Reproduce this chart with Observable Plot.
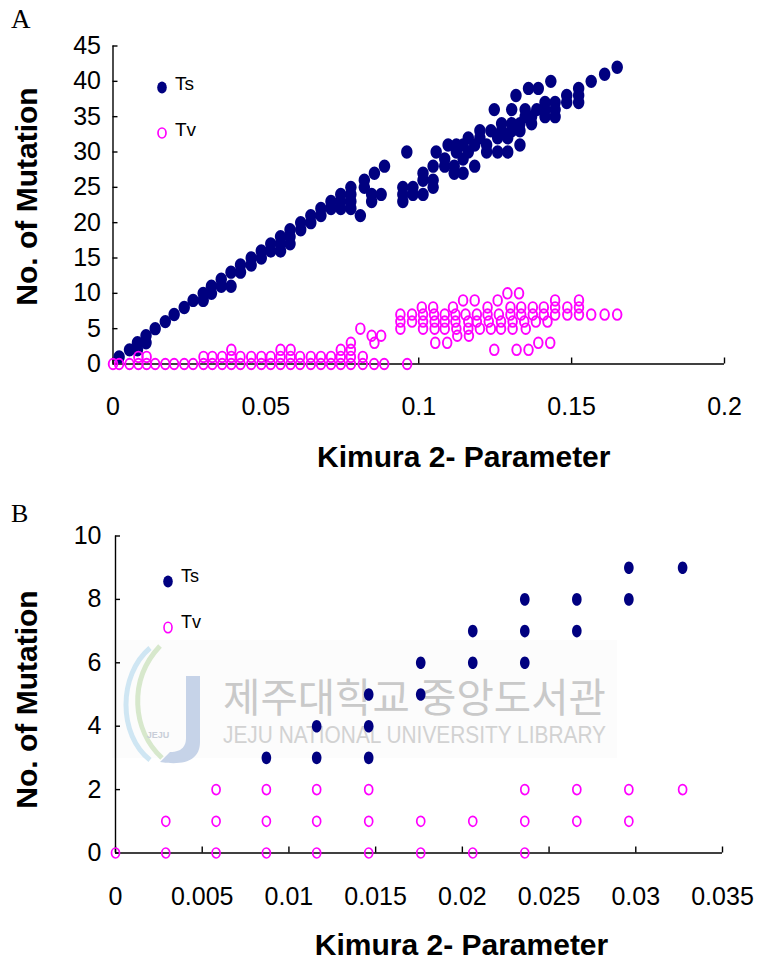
<!DOCTYPE html>
<html><head><meta charset="utf-8">
<script src="https://cdn.jsdelivr.net/npm/d3@7"></script>
<script src="https://cdn.jsdelivr.net/npm/@observablehq/plot@0.6"></script>
<style>
html,body{margin:0;padding:0;background:#fff;}
#root{position:relative;width:758px;height:963px;overflow:hidden;background:#fff;}
#root > svg{position:absolute;left:0;}
</style></head><body><div id="root"></div>
<script>
// ---------- Panel A data (K2P distance, number of mutations) ----------
const tsA = [
[0.002,1],[0.0054,2],[0.008,3],[0.008,2],[0.0108,4],[0.0108,3],[0.0138,5],[0.0171,6],[0.020,7],[0.0233,8],
[0.0262,9],[0.0295,10],[0.0295,9],[0.0322,11],[0.0322,10],[0.0354,12],[0.0354,11],[0.0386,13],[0.0386,11],
[0.0417,14],[0.0417,13],[0.0452,15],[0.0452,14],[0.0485,16],[0.0485,15],[0.0516,17],[0.0516,16],
[0.0548,18],[0.0548,17],[0.0548,16],[0.0579,19],[0.0579,18],[0.0579,17],[0.0614,20],[0.0614,19],
[0.0647,21],[0.0647,20],[0.068,22],[0.068,21],[0.0713,23],[0.0713,22],[0.0745,24],[0.0745,23],[0.0745,22],
[0.0778,25],[0.0778,24],[0.0778,23],[0.0778,22],[0.0809,21],[0.0822,26],[0.0822,25],[0.0846,24],[0.0846,23],
[0.0855,27],[0.0877,24],[0.0888,28],[0.0948,25],[0.0948,24],[0.0948,23],[0.0961,30],[0.0981,25],[0.0981,24],
[0.1014,27],[0.1014,26],[0.1014,24],[0.1047,28],[0.1047,26],[0.1047,25],[0.1057,30],[0.1085,29],[0.1085,28],
[0.1096,31],[0.1116,28],[0.1116,27],[0.1123,31],[0.1123,30],[0.1145,31],[0.1145,29],[0.1145,27],
[0.1162,32],[0.1162,30],[0.1183,31],[0.1183,28],[0.12,33],[0.12,32],[0.1222,31],[0.1222,30],[0.1236,33],
[0.1247,36],[0.1258,32],[0.1258,30],[0.1271,34],[0.1271,33],[0.1291,32],[0.1291,30],[0.1304,36],[0.1304,34],
[0.1304,33],[0.1318,38],[0.1331,34],[0.1331,33],[0.1331,31],[0.1348,36],[0.1348,35],[0.1359,39],[0.1369,35],
[0.1369,34],[0.1386,36],[0.1391,39],[0.1413,37],[0.1413,36],[0.1413,35],[0.1432,40],[0.1446,37],[0.1446,36],
[0.1446,35],[0.1484,38],[0.1484,37],[0.1523,39],[0.1523,38],[0.1523,37],[0.1564,40],[0.1608,41],[0.1649,42]
];
const tvA = [
[0,0],[0.002,0],[0.0054,0],[0.0083,0],[0.011,0],[0.0138,0],[0.0171,0],[0.020,0],[0.0233,0],[0.0262,0],
[0.0296,0],[0.0325,0],[0.0357,0],[0.0387,0],[0.0417,0],[0.0452,0],[0.0485,0],[0.0516,0],[0.0548,0],[0.0581,0],
[0.0612,0],[0.0647,0],[0.068,0],[0.0713,0],[0.0745,0],[0.0778,0],[0.0817,0],[0.0854,0],[0.0887,0],[0.0962,0],
[0.0083,1],[0.011,1],[0.0296,1],[0.0325,1],[0.0357,1],[0.0387,1],[0.0417,1],[0.0452,1],[0.0485,1],[0.0516,1],
[0.0548,1],[0.0581,1],[0.0612,1],[0.0647,1],[0.068,1],[0.0713,1],[0.0745,1],[0.0778,1],[0.0817,1],
[0.0387,2],[0.0548,2],[0.0581,2],[0.0745,2],[0.0778,2],
[0.0778,3],[0.0809,5],[0.0846,4],[0.0855,3],[0.0877,4],
[0.129,10],[0.1328,10],
[0.1145,9],[0.1183,9],[0.1258,9],[0.1446,9],[0.1524,9],
[0.101,8],[0.1047,8],[0.1112,8],[0.1225,8],[0.130,8],[0.1335,8],[0.1373,8],[0.1409,8],[0.1446,8],[0.1486,8],[0.1524,8],
[0.094,7],[0.0978,7],[0.1014,7],[0.105,7],[0.1085,7],[0.112,7],[0.1153,7],[0.119,7],[0.1225,7],[0.1262,7],
[0.130,7],[0.1335,7],[0.1373,7],[0.1409,7],[0.1446,7],[0.1486,7],[0.1524,7],[0.1564,7],[0.1608,7],[0.1649,7],
[0.094,6],[0.0978,6],[0.1014,6],[0.1052,6],[0.1085,6],[0.112,6],[0.1162,6],[0.119,6],[0.1229,6],[0.1269,6],
[0.1307,6],[0.1345,6],[0.1383,6],[0.1421,6],
[0.094,5],[0.1014,5],[0.1052,5],[0.1085,5],[0.1123,5],[0.1162,5],[0.12,5],[0.1236,5],[0.1269,5],[0.1307,5],[0.135,5],
[0.1126,4],[0.1164,4],
[0.1054,3],[0.1093,3],[0.1391,3],[0.143,3],
[0.1247,2],[0.132,2],[0.1359,2]
];
const xTicksA = [0, 0.05, 0.1, 0.15, 0.2];
const yTicksA = [0, 5, 10, 15, 20, 25, 30, 35, 40, 45];

// ---------- Panel B data ----------
const tsB = [
[0.0087,3],[0.0116,3],[0.0116,4],[0.0146,3],[0.0146,4],[0.0146,5],[0.0176,5],[0.0176,6],[0.0206,6],[0.0206,7],
[0.0236,6],[0.0236,7],[0.0236,8],[0.0266,7],[0.0266,8],[0.0296,8],[0.0296,9],[0.0327,9]
];
const tvB = [
[0,0],[0.0029,0],[0.0058,0],[0.0087,0],[0.0116,0],[0.0146,0],[0.0176,0],[0.0206,0],[0.0236,0],
[0.0029,1],[0.0058,1],[0.0087,1],[0.0116,1],[0.0146,1],[0.0176,1],[0.0206,1],[0.0236,1],[0.0266,1],[0.0296,1],
[0.0058,2],[0.0087,2],[0.0116,2],[0.0146,2],[0.0236,2],[0.0266,2],[0.0296,2],[0.0327,2]
];
const xTicksB = [0, 0.005, 0.01, 0.015, 0.02, 0.025, 0.03, 0.035];
const yTicksB = [0, 2, 4, 6, 8, 10];

const seriesNames = ["Ts", "Tv"];
const xTitle = "Kimura 2- Parameter";
const yTitle = "No. of Mutation";

// ---------- drawing ----------
const W = 758;
const NAVY = "#000080", MAGENTA = "#ff00ff";
const FONT = "'Liberation Sans', Arial, Helvetica, sans-serif";

function ellipse(rx, ry) {
  return {draw(c) {
    const k = 0.5523;
    c.moveTo(rx, 0);
    c.bezierCurveTo(rx, k*ry, k*rx, ry, 0, ry);
    c.bezierCurveTo(-k*rx, ry, -rx, k*ry, -rx, 0);
    c.bezierCurveTo(-rx, -k*ry, -k*rx, -ry, 0, -ry);
    c.bezierCurveTo(k*rx, -ry, rx, -k*ry, rx, 0);
    c.closePath();
  }};
}

function panel(cfg) {
  const ts = cfg.ts.map(([x, y]) => ({x, y, s: seriesNames[0]}));
  const tv = cfg.tv.map(([x, y]) => ({x, y, s: seriesNames[1]}));
  const fmt = d => String(d);
  return Plot.plot({
    width: W, height: cfg.height,
    marginLeft: cfg.ml, marginRight: cfg.mr, marginTop: cfg.mt, marginBottom: cfg.mb,
    x: {domain: cfg.xDomain}, y: {domain: cfg.yDomain},
    style: {background: "transparent", overflow: "visible", fontFamily: FONT, color: "#000"},
    marks: [
      Plot.ruleY([0], {stroke: "#000", strokeWidth: 1.4}),
      Plot.ruleX([0], {stroke: "#000", strokeWidth: 1.4}),
      Plot.axisY(cfg.yTicks, {tickSize: -5, fill: "none", stroke: "#000", strokeWidth: 1.4}),
      Plot.axisX(cfg.xTicks, {tickSize: -6, fill: "none", stroke: "#000", strokeWidth: 1.4}),
      Plot.axisY(cfg.yTicks, {tickSize: 0, tickPadding: cfg.yPad, tickFormat: fmt, fontSize: 25, fill: "#000", label: null}),
      Plot.axisX(cfg.xTicks, {tickSize: 0, tickPadding: cfg.xPad, tickFormat: fmt, fontSize: 25, fill: "#000", label: null}),
      Plot.text([yTitle], {text: d => d, frameAnchor: "left", rotate: -90, lineAnchor: "top", textAnchor: "middle",
        dx: cfg.yTitleDx, dy: cfg.yTitleDy, fontSize: 30, fontWeight: "bold", fill: "#000"}),
      Plot.text([xTitle], {text: d => d, frameAnchor: "bottom", lineAnchor: "middle", textAnchor: "middle",
        dx: cfg.xTitleDx, dy: cfg.xTitleDy, fontSize: 30, fontWeight: "bold", fill: "#000"}),
      Plot.dot(ts, {x: "x", y: "y", symbol: ellipse(cfg.tsR[0], cfg.tsR[1]), fill: NAVY, stroke: "none"}),
      Plot.dot(tv, {x: "x", y: "y", symbol: ellipse(cfg.tvR[0], cfg.tvR[1]), fill: "none", stroke: MAGENTA, strokeWidth: cfg.tvSW})
    ]
  });
}

const root = document.getElementById("root");

// watermark layer (behind the charts)
const bg = d3.create("svg").attr("width", W).attr("height", 963).style("top", "0px");
const wm = bg.append("g");
wm.append("rect").attr("x", 112).attr("y", 640).attr("width", 505).attr("height", 118).attr("fill", "#fcfcfc");
wm.append("path").attr("d", "M150,648 C118,675 118,735 150,760").attr("fill", "none").attr("stroke", "#cfe6f3").attr("stroke-width", 5);
wm.append("path").attr("d", "M160,646 C128,680 132,730 162,758").attr("fill", "none").attr("stroke", "#d7e8cc").attr("stroke-width", 5);
wm.append("path").attr("d", "M186,676 L200,676 L200,742 C200,760 185,766 160,762 L170,752 C183,752 186,745 186,738 Z").attr("fill", "#c6d3e8");
wm.append("text").attr("x", 158).attr("y", 738).attr("text-anchor", "middle").attr("font-family", FONT)
  .attr("font-size", 9).attr("font-weight", "bold").attr("fill", "#c8ced8").text("JEJU");
wm.append("text").attr("x", 223).attr("y", 712).attr("font-family", "'Noto Sans CJK KR', sans-serif")
  .attr("font-size", 40).attr("fill", "#c9c9c9").attr("textLength", 383).attr("lengthAdjust", "spacingAndGlyphs")
  .text("제주대학교 중앙도서관");
wm.append("text").attr("x", 223).attr("y", 743).attr("font-family", FONT)
  .attr("font-size", 24).attr("fill", "#d2d2d2").attr("textLength", 383).attr("lengthAdjust", "spacingAndGlyphs")
  .text("JEJU NATIONAL UNIVERSITY  LIBRARY");
root.appendChild(bg.node());

const chartA = panel({
  ts: tsA, tv: tvA, xDomain: [0, 0.2], yDomain: [0, 45], xTicks: xTicksA, yTicks: yTicksA,
  height: 480, ml: 112.5, mr: 34, mt: 45.5, mb: 116.5,
  yPad: 12, xPad: 33, yTitleDx: -97.5, yTitleDy: -8.5, xTitleDx: 45, xTitleDy: 93.5,
  tsR: [5.7, 6.7], tvR: [4.3, 5.3], tvSW: 1.9
});
chartA.style.top = "0px";
root.appendChild(chartA);

const chartB = panel({
  ts: tsB, tv: tvB, xDomain: [0, 0.035], yDomain: [0, 10], xTicks: xTicksB, yTicks: yTicksB,
  height: 483, ml: 115, mr: 36, mt: 55.5, mb: 110.5,
  yPad: 14, xPad: 34.5, yTitleDx: -100, yTitleDy: 5, xTitleDx: 42.5, xTitleDy: 92.5,
  tsR: [4.8, 6.3], tvR: [4.0, 5.0], tvSW: 1.7
});
chartB.style.top = "480px";
root.appendChild(chartB);

// overlay: panel letters and legends
const ov = d3.create("svg").attr("width", W).attr("height", 963).style("top", "0px").style("pointer-events", "none");
ov.append("text").attr("x", 11).attr("y", 28).attr("font-family", "'Liberation Serif', 'Times New Roman', serif")
  .attr("font-size", 27).text("A");
ov.append("text").attr("x", 11).attr("y", 522).attr("font-family", "'Liberation Serif', 'Times New Roman', serif")
  .attr("font-size", 26).text("B");

function legend(g, items) {
  items.forEach(it => {
    g.append("ellipse").attr("cx", it.cx).attr("cy", it.cy).attr("rx", it.rx).attr("ry", it.ry)
      .attr("fill", it.filled ? NAVY : "none").attr("stroke", it.filled ? "none" : MAGENTA).attr("stroke-width", it.sw || 0);
    g.append("text").attr("x", it.tx).attr("y", it.ty).attr("font-family", FONT).attr("font-size", it.fs).text(it.label);
  });
}
legend(ov, [
  {label: seriesNames[0], cx: 162, cy: 87.5, rx: 4.8, ry: 6.0, filled: true, tx: 175, ty: 89.5, fs: 19},
  {label: seriesNames[1], cx: 162, cy: 133, rx: 4.0, ry: 5.0, filled: false, sw: 1.7, tx: 175, ty: 135.5, fs: 19},
  {label: seriesNames[0], cx: 168, cy: 581.5, rx: 4.8, ry: 6.0, filled: true, tx: 181, ty: 582, fs: 18},
  {label: seriesNames[1], cx: 168, cy: 627.5, rx: 4.0, ry: 5.2, filled: false, sw: 1.6, tx: 181, ty: 628, fs: 18}
]);
root.appendChild(ov.node());
</script></body></html>
